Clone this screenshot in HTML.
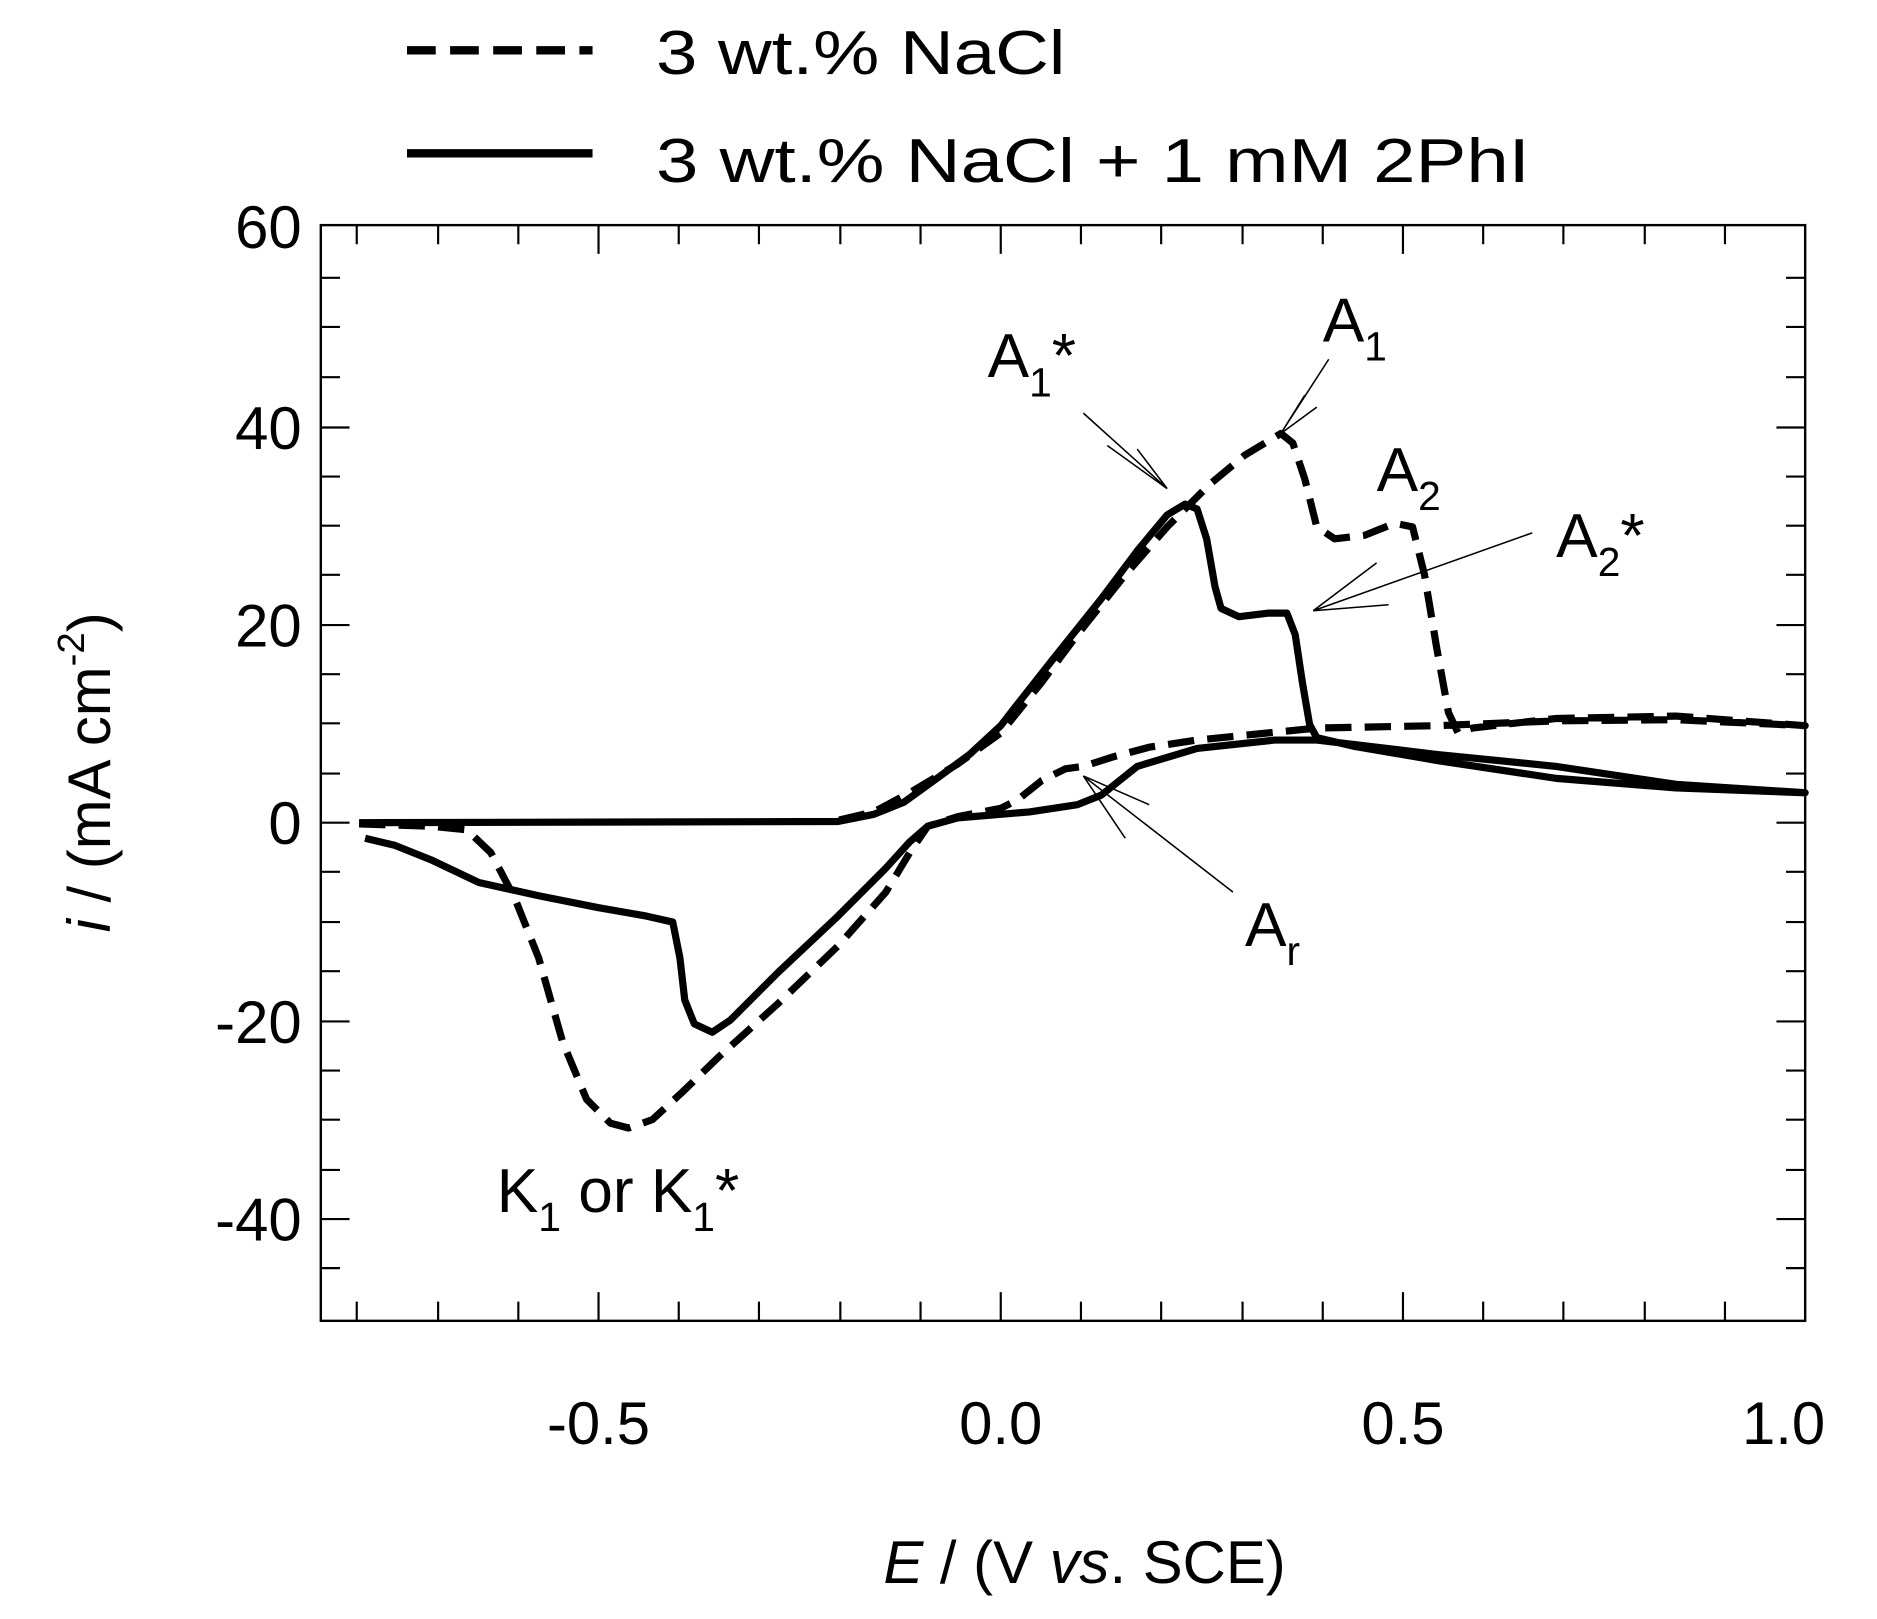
<!DOCTYPE html>
<html><head><meta charset="utf-8"><style>html,body{margin:0;padding:0;background:#fff}svg{display:block}</style></head>
<body>
<svg width="1877" height="1619" viewBox="0 0 1568 1352" preserveAspectRatio="none" xmlns="http://www.w3.org/2000/svg" font-family="Liberation Sans, sans-serif" fill="#000">
<rect x="268" y="188" width="1240" height="915" fill="none" stroke="#000" stroke-width="2"/>
<g stroke="#000" stroke-width="1.8">
<path d="M298,1103v-16M366,1103v-16M433,1103v-16M500,1103v-24M567,1103v-16M634,1103v-16M702,1103v-16M769,1103v-16M836,1103v-24M903,1103v-16M970,1103v-16M1038,1103v-16M1105,1103v-16M1172,1103v-24M1239,1103v-16M1306,1103v-16M1374,1103v-16M1441,1103v-16
M298,188v16M366,188v16M433,188v16M500,188v24M567,188v16M634,188v16M702,188v16M769,188v16M836,188v24M903,188v16M970,188v16M1038,188v16M1105,188v16M1172,188v24M1239,188v16M1306,188v16M1374,188v16M1441,188v16"/>
<path d="M268,232h16M268,273h16M268,315h16M268,357h24M268,398h16M268,439h16M268,480h16M268,522h24M268,563h16M268,604h16M268,646h16M268,687h24M268,728h16M268,770h16M268,811h16M268,853h24M268,894h16M268,935h16M268,977h16M268,1018h24M268,1059h16
M1508,232h-16M1508,273h-16M1508,315h-16M1508,357h-24M1508,398h-16M1508,439h-16M1508,480h-16M1508,522h-24M1508,563h-16M1508,604h-16M1508,646h-16M1508,687h-24M1508,728h-16M1508,770h-16M1508,811h-16M1508,853h-24M1508,894h-16M1508,935h-16M1508,977h-16M1508,1018h-24M1508,1059h-16"/>
</g>
<g font-size="50" text-anchor="end">
<text x="252" y="207">60</text><text x="252" y="375">40</text><text x="252" y="540">20</text><text x="252" y="705">0</text><text x="252" y="871">-20</text><text x="252" y="1036">-40</text>
</g>
<g font-size="50" text-anchor="middle">
<text x="500" y="1206">-0.5</text><text x="836" y="1206">0.0</text><text x="1172" y="1206">0.5</text><text x="1490" y="1206">1.0</text>
<text x="906" y="1322"><tspan font-style="italic">E</tspan> / (V <tspan font-style="italic">vs</tspan>. SCE)</text>
</g>
<text transform="translate(92,645) rotate(-90)" font-size="50" text-anchor="middle"><tspan font-style="italic">i</tspan> / (mA cm<tspan font-size="32" dy="-22">-2</tspan><tspan dy="22">)</tspan></text>
<path d="M340,42H495" stroke="#000" stroke-width="7" stroke-dasharray="24,12"/>
<path d="M340,128H495" stroke="#000" stroke-width="7"/>
<text x="548" y="62" font-size="52" textLength="342" lengthAdjust="spacingAndGlyphs">3 wt.% NaCl</text>
<text x="548" y="152" font-size="52" textLength="730" lengthAdjust="spacingAndGlyphs">3 wt.% NaCl + 1 mM 2PhI</text>
<path fill="none" stroke="#000" stroke-width="6" stroke-dasharray="22,11" stroke-linejoin="round"
d="M300,688 L360,690 390,693 410,712 430,750 450,800 470,870 490,918 510,938 525,942 545,935 570,912 600,883 650,838 700,790 740,745 760,712 775,690 800,682 836,675 850,668 870,652 890,642 905,640 930,632 960,624 1000,618 1100,608 1200,606 1300,602 1400,601 1508,606 1400,598 1300,600 1230,608 1218,612 1210,595 1200,540 1190,480 1180,440 1165,437 1140,447 1115,450 1100,440 1090,400 1080,370 1070,362 1040,380 1010,405 975,440 940,480 900,530 870,570 836,612 800,638 760,662 730,678 700,685"/>
<path fill="none" stroke="#000" stroke-width="6" stroke-linejoin="round"
d="M300,687 L700,686 730,680 755,670 780,652 810,630 836,606 850,588 880,550 920,500 950,460 975,430 990,421 1000,425 1008,450 1015,490 1020,508 1035,515 1060,512 1075,512 1082,530 1088,570 1094,605 1100,616 1130,623 1200,635 1300,650 1400,658 1508,662 1400,655 1300,640 1200,630 1100,618 1065,618 1000,625 950,640 920,664 900,672 860,678 836,680 800,683 775,690 760,703 740,725 700,765 650,812 610,852 595,862 580,855 572,835 568,800 562,770 540,765 500,758 450,748 400,737 360,718 330,706 305,700"/>
<g stroke="#000" stroke-width="1.3" fill="none">
<path d="M905,345L975,408M950,375L975,408M925,372L975,408"/>
<path d="M1110,300L1070,362M1090,330L1070,362M1100,340L1070,362"/>
<path d="M1280,445L1097,510M1150,470L1097,510M1160,505L1097,510"/>
<path d="M1030,745L905,648M960,672L905,648M940,700L905,648"/>
</g>
<g font-size="52">
<text x="825" y="315">A<tspan font-size="34" dy="16">1</tspan><tspan dy="-16">*</tspan></text>
<text x="1105" y="285">A<tspan font-size="34" dy="16">1</tspan></text>
<text x="1150" y="410">A<tspan font-size="34" dy="16">2</tspan></text>
<text x="1300" y="465">A<tspan font-size="34" dy="16">2</tspan><tspan dy="-16">*</tspan></text>
<text x="1040" y="790">A<tspan font-size="34" dy="16">r</tspan></text>
<text x="415" y="1012">K<tspan font-size="34" dy="16">1</tspan><tspan dy="-16"> or K</tspan><tspan font-size="34" dy="16">1</tspan><tspan dy="-16">*</tspan></text>
</g>
</svg>
</body></html>
